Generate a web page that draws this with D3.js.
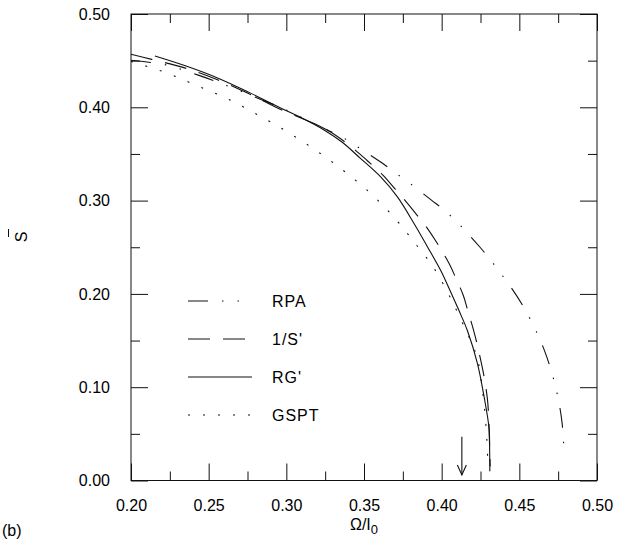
<!DOCTYPE html>
<html><head><meta charset="utf-8">
<script src="https://cdn.jsdelivr.net/npm/d3@7/dist/d3.min.js"></script>
<style>
body{margin:0;background:#fff}
text{font-family:"Liberation Sans",Arial,Helvetica,sans-serif;fill:#000}
</style>
</head><body>
<svg id="c" width="617" height="548"></svg>
<script>
// ---------- data ----------
const xTicks = [0.20, 0.25, 0.30, 0.35, 0.40, 0.45, 0.50];
const xMinorTicks = [0.225, 0.275, 0.325, 0.375, 0.425, 0.475];
const yTicks = [0.00, 0.10, 0.20, 0.30, 0.40, 0.50];
const yMinorTicks = [0.05, 0.15, 0.25, 0.35, 0.45];

const seriesNames = ["RPA", "1/S'", "RG'", "GSPT"];

const rpaX = [0.200, 0.2225, 0.2326, 0.2433, 0.2551, 0.2647, 0.2744, 0.284, 0.2958, 0.310, 0.326, 0.336, 0.3445, 0.3538, 0.3628, 0.3725, 0.380, 0.393, 0.4015, 0.409, 0.4166, 0.4247, 0.4316, 0.438, 0.444, 0.452, 0.460, 0.466, 0.471, 0.475, 0.4775, 0.4785, 0.479];
const rpaY = [0.4505, 0.4455, 0.4405, 0.4345, 0.4275, 0.4213, 0.4148, 0.4080, 0.4003, 0.389, 0.376, 0.368, 0.359, 0.349, 0.339, 0.327, 0.318, 0.301, 0.290, 0.2785, 0.265, 0.250, 0.236, 0.222, 0.2085, 0.188, 0.163, 0.140, 0.115, 0.088, 0.062, 0.040, 0.026];

const invSX = [0.200, 0.2133, 0.235, 0.2557, 0.276, 0.296, 0.325, 0.340, 0.352, 0.362, 0.370, 0.3768, 0.3832, 0.3908, 0.3961, 0.4047, 0.4086, 0.414, 0.4166, 0.4202, 0.4226, 0.4256, 0.4273, 0.4294, 0.4301, 0.4308, 0.4312];
const invSY = [0.4568, 0.4514, 0.442, 0.4295, 0.4145, 0.398, 0.377, 0.360, 0.343, 0.3275, 0.3125, 0.2995, 0.2864, 0.2703, 0.257, 0.2328, 0.2190, 0.198, 0.1835, 0.163, 0.1477, 0.1256, 0.1113, 0.088, 0.0737, 0.040, 0.015];

const rgX = [0.2154, 0.235, 0.2557, 0.276, 0.296, 0.310, 0.324, 0.336, 0.3477, 0.3606, 0.3714, 0.3821, 0.3908, 0.3994, 0.4058, 0.4125, 0.4166, 0.423, 0.4273, 0.4305, 0.4309, 0.4310];
const rgY = [0.455, 0.4445, 0.4315, 0.416, 0.3995, 0.3885, 0.376, 0.3625, 0.3453, 0.3256, 0.3042, 0.2757, 0.2506, 0.2250, 0.2020, 0.1770, 0.1605, 0.1256, 0.0898, 0.056, 0.030, 0.010];

const gsptX = [0.200, 0.2226, 0.2424, 0.2624, 0.2815, 0.3005, 0.3187, 0.3363, 0.3531, 0.3686, 0.3821, 0.3955, 0.4058, 0.4105, 0.4194, 0.423, 0.426, 0.428, 0.4292, 0.4298];
const gsptY = [0.449, 0.4371, 0.4232, 0.4089, 0.3921, 0.3738, 0.3542, 0.3328, 0.3095, 0.2835, 0.2559, 0.2264, 0.1953, 0.1792, 0.147, 0.131, 0.100, 0.070, 0.040, 0.015];

const arrowX = [0.413, 0.413];
const arrowY = [0.047, 0.006];

// ---------- layout ----------
const svg = d3.select("#c");
const L = 131, R = 597, T = 14, B = 480.5;
const x = d3.scaleLinear().domain([0.2, 0.5]).range([L, R]);
const y = d3.scaleLinear().domain([0, 0.5]).range([B, T]);

const ink = "#111";

function styleAxis(g) {
  g.select(".domain").remove();
  g.selectAll(".tick line").attr("stroke", ink).attr("stroke-width", 1);
  g.selectAll("text").attr("font-size", 16).attr("fill", "#000")
    .attr("font-family", '"Liberation Sans",Arial,sans-serif');
}
const fmt = d3.format(".2f");

svg.append("g").attr("transform", `translate(0,${B})`)
  .call(d3.axisBottom(x).tickValues(xTicks).tickSize(-17).tickPadding(19).tickFormat(fmt)).call(styleAxis);
svg.append("g").attr("transform", `translate(0,${B})`)
  .call(d3.axisBottom(x).tickValues(xMinorTicks).tickSize(-9).tickFormat("")).call(styleAxis);
svg.append("g").attr("transform", `translate(0,${T})`)
  .call(d3.axisTop(x).tickValues(xTicks).tickSize(-17).tickFormat("")).call(styleAxis);
svg.append("g").attr("transform", `translate(0,${T})`)
  .call(d3.axisTop(x).tickValues(xMinorTicks).tickSize(-9).tickFormat("")).call(styleAxis);

svg.append("g").attr("transform", `translate(${L},0)`)
  .call(d3.axisLeft(y).tickValues(yTicks).tickSize(-17).tickPadding(21).tickFormat(fmt)).call(styleAxis);
svg.append("g").attr("transform", `translate(${L},0)`)
  .call(d3.axisLeft(y).tickValues(yMinorTicks).tickSize(-9).tickFormat("")).call(styleAxis);
svg.append("g").attr("transform", `translate(${R},0)`)
  .call(d3.axisRight(y).tickValues(yTicks).tickSize(-17).tickFormat("")).call(styleAxis);
svg.append("g").attr("transform", `translate(${R},0)`)
  .call(d3.axisRight(y).tickValues(yMinorTicks).tickSize(-9).tickFormat("")).call(styleAxis);

// frame
svg.append("rect").attr("x", L).attr("y", T).attr("width", R - L).attr("height", B - T)
  .attr("fill", "none").attr("stroke", ink).attr("stroke-width", 1);

// series
const dashes = ["20,14,1.5,14,1.5,14", "22,13", null, "2,13"];
const seriesData = [
  d3.zip(rpaX, rpaY), d3.zip(invSX, invSY), d3.zip(rgX, rgY), d3.zip(gsptX, gsptY)
];
const line = d3.line().x(d => x(d[0])).y(d => y(d[1])).curve(d3.curveCatmullRom.alpha(0.5));
seriesData.forEach((pts, i) => {
  svg.append("path").attr("d", line(pts)).attr("fill", "none")
    .attr("stroke", ink).attr("stroke-width", 1.1)
    .attr("stroke-dasharray", dashes[i]);
});

// arrow
const ax = x(arrowX[0]), ay0 = y(arrowY[0]), ay1 = y(arrowY[1]);
svg.append("line").attr("x1", ax).attr("x2", ax).attr("y1", ay0).attr("y2", ay1)
  .attr("stroke", ink).attr("stroke-width", 1.1);
svg.append("path").attr("d", `M${ax - 4.5},${ay1 - 10}L${ax},${ay1}L${ax + 4.5},${ay1 - 10}`)
  .attr("fill", "none").attr("stroke", ink).attr("stroke-width", 1.1);

// legend
const legY = [301, 339, 377, 415];
seriesNames.forEach((name, i) => {
  svg.append("line").attr("x1", 188).attr("x2", 252).attr("y1", legY[i]).attr("y2", legY[i])
    .attr("stroke", ink).attr("stroke-width", 1.1).attr("stroke-dasharray", dashes[i]);
  svg.append("text").attr("x", 272).attr("y", legY[i] + 6).attr("font-size", 16)
    .attr("letter-spacing", 1).text(name);
});

// axis titles
const xt = svg.append("text").attr("x", (L + R) / 2).attr("y", 530).attr("text-anchor", "middle").attr("font-size", 16);
xt.append("tspan").text("Ω/I");
xt.append("tspan").attr("dy", 4).attr("font-size", 13).text("0");

svg.append("text").attr("transform", "translate(27,237) rotate(-90)").attr("text-anchor", "middle")
  .attr("font-size", 16).text("S");
svg.append("line").attr("x1", 8.5).attr("x2", 8.5).attr("y1", 229).attr("y2", 237)
  .attr("stroke", ink).attr("stroke-width", 1);

svg.append("text").attr("x", 2).attr("y", 536).attr("font-size", 16).text("(b)");
</script>
</body></html>
